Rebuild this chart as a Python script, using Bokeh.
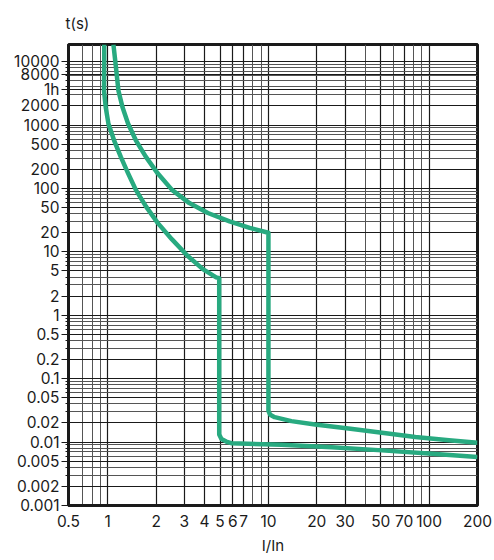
from bokeh.plotting import figure
from bokeh.models import FixedTicker, Title
from bokeh.embed import file_html
from bokeh.resources import INLINE

# ---- data ----
# lower curve (magnetic trip at ~5 In)
curve1_I = [0.951, 0.951, 0.948, 0.972, 1.010, 1.095, 1.206, 1.339, 1.496, 1.728, 2.045, 2.512,
            3.148, 3.908, 4.73, 4.94, 4.94, 5.1, 5.46, 5.87, 12.05, 24.8, 50.9, 104.5, 200.0]
curve1_t = [18600, 10200, 3467, 1901, 1047, 574, 314, 173, 94.8, 52, 28.6, 15.7,
            8.6, 5.33, 3.95, 3.85, 0.0132, 0.0112, 0.0102, 0.0096, 0.00905, 0.00832, 0.0074, 0.00655, 0.00582]
# upper curve (magnetic trip at ~10 In)
curve2_I = [1.085, 1.114, 1.166, 1.236, 1.339, 1.496, 1.728, 2.045, 2.512, 3.22, 4.20, 5.73,
            7.64, 9.72, 10.0, 10.0, 10.25, 10.94, 13.9, 19.5, 31.5, 50.9, 82.1, 132.8, 200.0]
curve2_t = [18600, 10200, 3467, 1901, 1047, 574, 314, 173, 94.8, 58.7, 41, 30.3,
            23.9, 20.4, 20.0, 0.031, 0.027, 0.0247, 0.0214, 0.0189, 0.0164, 0.01406, 0.01205, 0.01065, 0.0098]

# tick values as drawn on the reference grid (left edge is labelled "0.5")
x_ticks = [0.57, 1, 2, 3, 4, 5, 6, 7, 10, 20, 30, 50, 70, 100, 200]
x_labels = ["0.5", "1", "2", "3", "4", "5", "6", "7", "10", "20", "30", "50", "70", "100", "200"]
x_minor = [0.7, 0.8, 0.9, 8, 9, 40, 60, 80, 90]

# the "8000" line sits lower on the reference than a true 8000 would
y_ticks = [10000, 6300, 3600, 2000, 1000, 500, 200, 100, 50, 20, 10, 5, 2, 1,
           0.5, 0.2, 0.1, 0.05, 0.02, 0.01, 0.005, 0.002, 0.001]
y_labels = ["10000", "8000", "1h", "2000", "1000", "500", "200", "100", "50", "20", "10", "5", "2", "1",
            "0.5", "0.2", "0.1", "0.05", "0.02", "0.01", "0.005", "0.002", "0.001"]
y_minor = [m * 10.0 ** k for k in range(-3, 4) for m in range(2, 10)
           if round(m * 10.0 ** k, 6) not in [round(v, 6) for v in y_ticks]]

GREEN = "#28aa80"
INK = "#1a1a1a"
FONT = "Inter"

p = figure(width=492, height=560, x_axis_type="log", y_axis_type="log",
           x_range=(0.57, 200), y_range=(0.001, 18600),
           output_backend="svg", toolbar_location=None,
           min_border_left=68, min_border_right=15, min_border_top=20, min_border_bottom=55)

p.title = Title(text="t(s)", align="left", offset=-3, standoff=23, text_font=FONT,
                text_font_size="15px", text_font_style="normal", text_color=INK)

# axes
p.xaxis.ticker = FixedTicker(ticks=x_ticks, minor_ticks=x_minor)
p.xaxis.major_label_overrides = dict(zip(x_ticks, x_labels))
p.yaxis.ticker = FixedTicker(ticks=y_ticks, minor_ticks=y_minor)
p.yaxis.major_label_overrides = dict(zip(y_ticks, y_labels))

for ax in (p.xaxis, p.yaxis):
    ax.axis_line_color = INK
    ax.axis_line_width = 3
    ax.major_label_text_font = FONT
    ax.major_label_text_font_size = "15.5px"
    ax.major_label_text_color = INK
    ax.major_tick_in = 0
    ax.minor_tick_in = 0
    ax.major_tick_line_color = INK
    ax.minor_tick_line_color = INK

p.xaxis.major_tick_out = 0
p.xaxis.minor_tick_out = 0
p.xaxis.major_label_standoff = 9
p.xaxis.axis_label = "I/In"
p.xaxis.axis_label_text_font = FONT
p.xaxis.axis_label_text_font_size = "15px"
p.xaxis.axis_label_text_font_style = "normal"
p.xaxis.axis_label_text_color = INK
p.xaxis.axis_label_standoff = 6

p.yaxis.major_tick_out = 7
p.yaxis.minor_tick_out = 3
p.yaxis.major_label_standoff = 2

# grids
for g in (p.xgrid, p.ygrid):
    g.grid_line_color = INK
    g.grid_line_width = 1.2
    g.grid_line_alpha = 1.0
    g.minor_grid_line_color = "#555555"
    g.minor_grid_line_width = 1
p.xgrid.ticker = p.xaxis.ticker
p.ygrid.ticker = p.yaxis.ticker

p.outline_line_color = INK
p.outline_line_width = 3
p.outline_line_alpha = 1.0

# curves
p.line(curve1_I, curve1_t, line_color=GREEN, line_width=4.5, line_join="round")
p.line(curve2_I, curve2_t, line_color=GREEN, line_width=4.5, line_join="round")

open("out.html", "w").write(file_html(p, INLINE))
